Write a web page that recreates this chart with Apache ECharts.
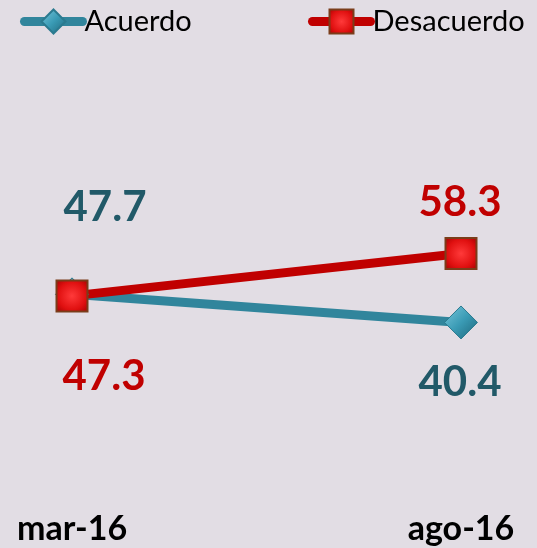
<!DOCTYPE html>
<html>
<head>
<meta charset="utf-8">
<script src="https://cdn.jsdelivr.net/npm/echarts@6/dist/echarts.min.js"></script>
<style>
    html, body { margin: 0; padding: 0; background: #e2dde4; }
    #chart { width: 537px; height: 548px; }
</style>
</head>
<body>
<div id="chart"></div>
<script>
    var categories = ['mar-16', 'ago-16'];
    var acuerdo = [47.7, 40.4];
    var desacuerdo = [47.3, 58.3];

    // label offsets (px) from each point
    var acuerdoOffsets = [[33, -87], [-1, 60]];
    var desacuerdoOffsets = [[32, 81], [-1, -51]];

    var teal = '#31859c';
    var red = '#c00000';

    var diamondFill = new echarts.graphic.LinearGradient(0, 0, 1, 1, [
        {offset: 0, color: '#7cc8dc'},
        {offset: 0.5, color: '#3a9bb5'},
        {offset: 1, color: '#1d6478'}
    ]);
    var squareFill = new echarts.graphic.RadialGradient(0.5, 0.5, 0.7, [
        {offset: 0, color: '#ff3a3a'},
        {offset: 0.6, color: '#e01010'},
        {offset: 1, color: '#a00000'}
    ]);

    function points(values, offsets, color) {
        return values.map(function (v, i) {
            return {
                value: v,
                label: {offset: offsets[i], color: color}
            };
        });
    }

    var labelBase = {
        show: true,
        position: 'inside',
        fontFamily: 'Lato',
        fontWeight: 'bold',
        fontSize: 42
    };

    function legendAt(left, name) {
        return {
            left: left,
            top: 7,
            padding: 0,
            itemWidth: 58,
            itemHeight: 30,
            data: [name],
            lineStyle: {width: 9, cap: 'round'},
            textStyle: {fontFamily: 'Lato', fontSize: 29, color: '#000', padding: [0, 0, 0, -3]}
        };
    }

    var myChart = echarts.init(document.getElementById('chart'));
    myChart.setOption({
        backgroundColor: '#e2dde4',
        animation: false,
        legend: [legendAt(20, 'Acuerdo'), legendAt(308, 'Desacuerdo')],
        grid: {
            left: 72,
            right: 76,
            top: 93,
            bottom: 70
        },
        xAxis: {
            type: 'category',
            boundaryGap: false,
            data: categories,
            axisLine: {show: false},
            axisTick: {show: false},
            axisLabel: {
                margin: 34,
                fontFamily: 'Lato',
                fontWeight: 'bold',
                fontSize: 34,
                color: '#000'
            }
        },
        yAxis: {
            type: 'value',
            min: 0,
            max: 100,
            show: false
        },
        series: [
            {
                name: 'Acuerdo',
                type: 'line',
                data: points(acuerdo, acuerdoOffsets, '#215968'),
                symbol: 'diamond',
                symbolSize: 33,
                lineStyle: {color: teal, width: 9},
                itemStyle: {color: diamondFill, borderColor: '#2b7a8f', borderWidth: 1},
                label: labelBase
            },
            {
                name: 'Desacuerdo',
                type: 'line',
                data: points(desacuerdo, desacuerdoOffsets, red),
                symbol: 'rect',
                symbolSize: 31,
                lineStyle: {color: red, width: 9},
                itemStyle: {color: squareFill, borderColor: '#7a3d1a', borderWidth: 2},
                label: labelBase
            }
        ]
    });
</script>
</body>
</html>
